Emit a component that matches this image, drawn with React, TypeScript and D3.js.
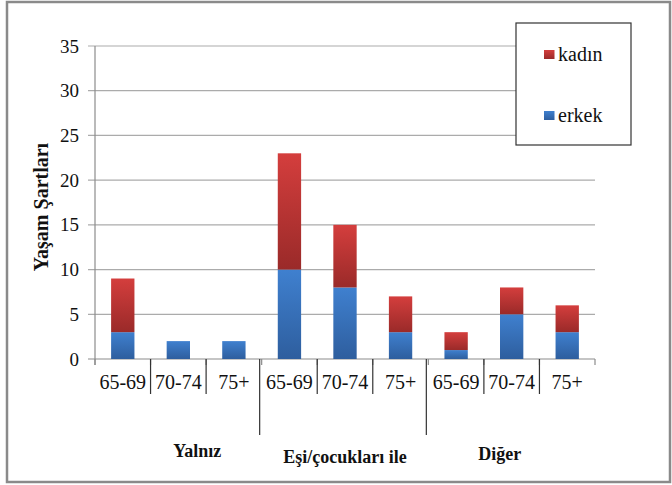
import React from 'react';
import * as d3 from 'd3';

// age bands repeated inside each living-condition group
const groups = ['Yalnız', 'Eşi/çocukları ile', 'Diğer'];
const ageBands = ['65-69', '70-74', '75+'];
const erkek = [3, 2, 2, 10, 8, 3, 1, 5, 3];
const kadin = [6, 0, 0, 13, 7, 4, 2, 3, 3];
const yTicks = [0, 5, 10, 15, 20, 25, 30, 35];
const seriesNames = ['kadın', 'erkek'];

const W = 672;
const H = 485;
const plot = { left: 95, right: 595, top: 46, bottom: 359 };
// small nudges for the group captions, as in the original
const groupLabelDx = [19, 0, -12];
const groupLabelY = [457, 463, 460];

const serif = 'Liberation Serif';

export default function App() {
  const categories = groups.flatMap((g) => ageBands.map((a) => `${g}|${a}`));
  const x = d3.scaleBand<string>().domain(categories).range([plot.left, plot.right]);
  const y = d3.scaleLinear().domain([0, 35]).range([plot.bottom, plot.top]);
  const bw = x.bandwidth();
  const barW = bw * 0.42;

  const stack = d3
    .stack<number>()
    .keys(['erkek', 'kadin'])
    .value((i, key) => (key === 'erkek' ? erkek[i] : kadin[i]))(d3.range(categories.length));

  const fills = ['url(#gBlue)', 'url(#gRed)'];
  const boundaries = d3.range(categories.length + 1).map((i) => plot.left + i * bw);

  return (
    <div style={{ position: 'absolute', left: 0, top: 0 }}>
      <svg width={W} height={H} style={{ display: 'block' }}>
        <defs>
          <linearGradient id="gBlue" x1="0" y1="0" x2="0" y2="1">
            <stop offset="0" stopColor="#3f80cf" />
            <stop offset="1" stopColor="#2e5e9e" />
          </linearGradient>
          <linearGradient id="gRed" x1="0" y1="0" x2="0" y2="1">
            <stop offset="0" stopColor="#d43e3d" />
            <stop offset="1" stopColor="#9a2a29" />
          </linearGradient>
        </defs>

        <rect x={7} y={2} width={663} height={480} fill="#fff" stroke="#8a8a8a" strokeWidth={2.5} />

        {/* gridlines */}
        {yTicks.map((t) => (
          <line key={t} x1={plot.left - 7} x2={plot.right} y1={y(t)} y2={y(t)} stroke={t === 0 ? '#8c8c8c' : '#ababab'} strokeWidth={1.2} />
        ))}
        <line x1={plot.left} x2={plot.left} y1={plot.top} y2={plot.bottom + 6} stroke="#8c8c8c" strokeWidth={1.2} />

        {/* y tick labels */}
        {yTicks.map((t) => (
          <text key={t} x={79} y={y(t) + 6.5} textAnchor="end" fontSize={19} fontFamily={serif} fill="#111">
            {t}
          </text>
        ))}

        {/* bars */}
        {stack.map((layer, si) =>
          layer.map((d, i) =>
            d[1] > d[0] ? (
              <rect
                key={`${si}-${i}`}
                x={x(categories[i])! + (bw - barW) / 2}
                y={y(d[1])}
                width={barW}
                height={y(d[0]) - y(d[1])}
                fill={fills[si]}
              />
            ) : null
          )
        )}

        {/* category ticks and separators */}
        {boundaries.map((bx, i) => {
          const isEnd = i === 0 || i === categories.length;
          const isGroup = !isEnd && i % ageBands.length === 0;
          return (
            <g key={i}>
              <line x1={bx} x2={bx} y1={plot.bottom} y2={plot.bottom + 6} stroke="#8c8c8c" strokeWidth={1.2} />
              {!isEnd && (
                <line
                  x1={isGroup ? bx - 2 : bx}
                  x2={isGroup ? bx - 2 : bx}
                  y1={plot.bottom}
                  y2={isGroup ? plot.bottom + 76 : plot.bottom + 35}
                  stroke="#333"
                  strokeWidth={1.2}
                />
              )}
            </g>
          );
        })}

        {/* age band labels */}
        {categories.map((c) => (
          <text key={c} x={x(c)! + bw / 2} y={389} textAnchor="middle" fontSize={20} fontFamily={serif} fill="#111">
            {c.split('|')[1]}
          </text>
        ))}

        {/* group labels */}
        {groups.map((g, gi) => {
          const first = x(`${g}|${ageBands[0]}`)!;
          const cx = first + (bw * ageBands.length) / 2 + groupLabelDx[gi];
          return (
            <text key={g} x={cx} y={groupLabelY[gi]} textAnchor="middle" fontSize={18} fontWeight="bold" fontFamily={serif} fill="#111">
              {g}
            </text>
          );
        })}

        {/* y axis title */}
        <text
          transform={`translate(48,${(142 + 272) / 2}) rotate(-90)`}
          textAnchor="middle"
          fontSize={20}
          fontWeight="bold"
          fontFamily={serif}
          fill="#111"
        >
          Yaşam Şartları
        </text>

        {/* legend */}
        <rect x={516} y={23} width={115} height={122} fill="#fff" stroke="#333" strokeWidth={1.2} />
        {seriesNames.map((s, i) => (
          <g key={s} transform={`translate(544,${50 + i * 61})`}>
            <rect width={10.5} height={9} fill={i === 0 ? 'url(#gRed)' : 'url(#gBlue)'} />
            <text x={14} y={10.5} fontSize={20} fill="#111" fontFamily={serif}>
              {s}
            </text>
          </g>
        ))}
      </svg>
    </div>
  );
}
